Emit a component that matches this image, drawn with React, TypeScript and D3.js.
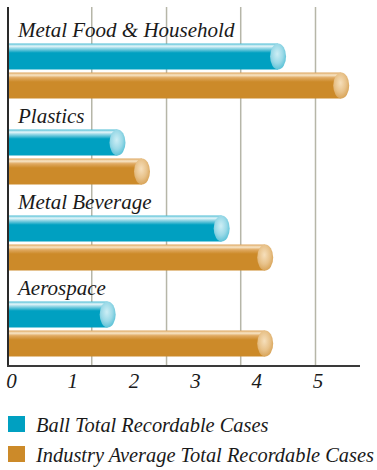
import React from "react";
import * as d3 from "d3";

const categories = ["Metal Food & Household", "Plastics", "Metal Beverage", "Aerospace"];
const ballValues = [4.52, 1.9, 3.6, 1.74];
const industryValues = [5.55, 2.3, 4.31, 4.31];
const tickValues = [0, 1, 2, 3, 4, 5];
const gridValues = [1.35, 2.57, 3.78, 5];
const seriesNames = ["Ball Total Recordable Cases", "Industry Average Total Recordable Cases"];

const W = 377;
const H = 470;
const FONT = "Liberation Serif";
const BLUE = "#00a0c1";
const ORANGE = "#cc8a29";

export default function App() {
  const x = d3.scaleLinear().domain([0, 5]).range([9, 315.5]);
  const y = d3.scaleBand<string>().domain(categories).range([15, 15 + 86 * categories.length]);
  const barH = 26;
  const rx = 8;
  const axisY = 366;

  const bar = (v: number, top: number, kind: "b" | "o", key: string) => {
    const end = x(v);
    return (
      <g key={key}>
        <rect x={9} y={top} width={end - rx - 9} height={barH} fill={`url(#body-${kind})`} />
        <ellipse cx={end - rx} cy={top + barH / 2} rx={rx} ry={barH / 2} fill={`url(#cap-${kind})`} />
      </g>
    );
  };

  return (
    <svg width={W} height={H} style={{ position: "absolute", left: 0, top: 0, background: "#fff" }}>
      <defs>
        <linearGradient id="body-b" x1="0" y1="0" x2="0" y2="1">
          <stop offset="0" stopColor="#49bcd4" />
          <stop offset="0.1" stopColor="#e6f6fa" />
          <stop offset="0.2" stopColor="#8ad3e3" />
          <stop offset="0.36" stopColor={BLUE} />
          <stop offset="1" stopColor={BLUE} />
        </linearGradient>
        <linearGradient id="body-o" x1="0" y1="0" x2="0" y2="1">
          <stop offset="0" stopColor="#dca35a" />
          <stop offset="0.1" stopColor="#f8e6c8" />
          <stop offset="0.2" stopColor="#e0aa62" />
          <stop offset="0.36" stopColor={ORANGE} />
          <stop offset="1" stopColor={ORANGE} />
        </linearGradient>
        <radialGradient id="cap-b" cx="0.45" cy="0.4" r="0.6">
          <stop offset="0" stopColor="#cdeef5" />
          <stop offset="0.6" stopColor="#9ad9e7" />
          <stop offset="1" stopColor="#5ec3d8" />
        </radialGradient>
        <radialGradient id="cap-o" cx="0.45" cy="0.4" r="0.6">
          <stop offset="0" stopColor="#f6dfbb" />
          <stop offset="0.6" stopColor="#e8c28a" />
          <stop offset="1" stopColor="#d9a55a" />
        </radialGradient>
      </defs>

      {gridValues.map((g, i) => (
        <line key={`g${i}`} x1={x(g)} x2={x(g)} y1={7} y2={axisY} stroke="#b6b6a8" strokeWidth={1.5} />
      ))}

      {categories.map((c, i) => {
        const start = y(c)!;
        return (
          <g key={c}>
            <text x={18} y={start + 22} fontFamily={FONT} fontStyle="italic" fontSize={21} fill="#1a1a1a">
              {c}
            </text>
            {bar(ballValues[i], start + 28.5, "b", `b${i}`)}
            {bar(industryValues[i], start + 57.5, "o", `o${i}`)}
          </g>
        );
      })}

      <line x1={8} x2={8} y1={7} y2={axisY + 1} stroke="#2a2a2a" strokeWidth={2} />
      <line x1={7} x2={360} y1={axisY} y2={axisY} stroke="#3a3a3a" strokeWidth={2} />

      {tickValues.map((t) => (
        <text key={`t${t}`} x={x(t) + 2.5} y={388} textAnchor="middle" fontFamily={FONT} fontStyle="italic" fontSize={21} fill="#1a1a1a">
          {t}
        </text>
      ))}

      {seriesNames.map((s, i) => (
        <g key={s}>
          <rect x={8} y={416 + i * 30} width={17} height={16} fill={i === 0 ? BLUE : ORANGE} />
          <text x={36} y={432 + i * 30} fontFamily={FONT} fontStyle="italic" fontSize={20.4} fill="#1a1a1a">
            {s}
          </text>
        </g>
      ))}
    </svg>
  );
}
